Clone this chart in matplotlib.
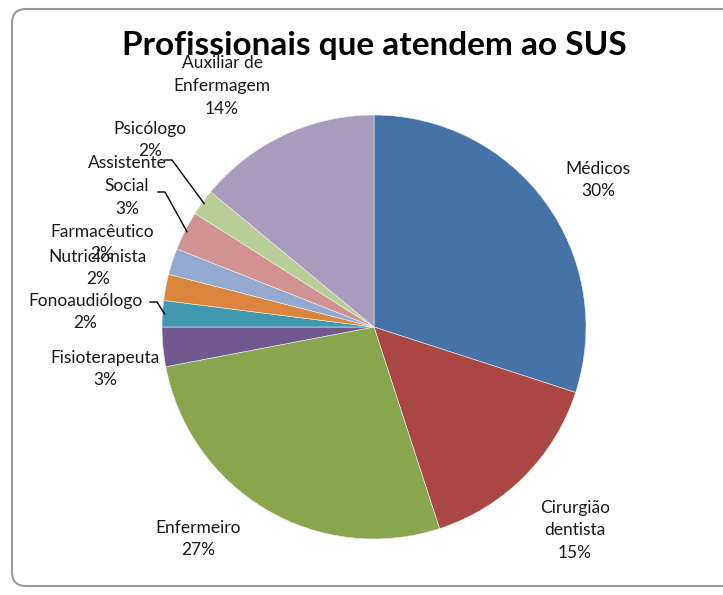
import numpy as np
import matplotlib.pyplot as plt
from matplotlib.patches import FancyBboxPatch

categorias = ["Médicos", "Cirurgião\ndentista", "Enfermeiro", "Fisioterapeuta",
              "Fonoaudiólogo", "Nutricionista", "Farmacêutico", "Assistente\nSocial",
              "Psicólogo", "Auxiliar de\nEnfermagem"]
percentuais = [30, 15, 27, 3, 2, 2, 2, 3, 2, 14]
cores = ["#4572A7", "#AA4643", "#89A54E", "#71588F", "#4198AF",
         "#DB843D", "#93A9CF", "#D19392", "#B9CD96", "#A99BBD"]

# label positions in pixels (x, y from top)
label_pos = [(598, 180), (575, 530), (198, 539), (105, 369), (85, 312),
             (98, 268), (102, 243), (127, 186), (150, 140), (222, 86)]
# leader lines: (text end x, text end y) for the small slices
leaders = {4: (150, 302), 7: (158, 192), 8: (165, 160)}

W, H = 723, 595
fig = plt.figure(figsize=(W / 100, H / 100), dpi=100)
ax = fig.add_axes([0, 0, 1, 1])

frame = FancyBboxPatch((12, 9), 740, 577, boxstyle="round,pad=0,rounding_size=14",
                       fc="white", ec="#9a9a9a", lw=1.5, zorder=0)
ax.add_patch(frame)

cx, cy, r = 374, H - 327, 212
wedges, _ = ax.pie(percentuais, colors=cores, startangle=90, counterclock=False,
                   center=(cx, cy), radius=r, frame=True,
                   wedgeprops=dict(linewidth=0.4, edgecolor="#f0f0f0"))
ax.set_xlim(0, W)
ax.set_ylim(0, H)
ax.set_aspect("equal")
ax.axis("off")

font = "Lato"
for i, (nome, p) in enumerate(zip(categorias, percentuais)):
    x, y = label_pos[i]
    ax.text(x, H - y, f"{nome}\n{p}%", ha="center", va="center", fontsize=12.5,
            family=font, color="#1a1a1a", linespacing=1.5, zorder=5)

for i, (tx, ty) in leaders.items():
    w = wedges[i]
    ang = np.deg2rad((w.theta1 + w.theta2) / 2)
    ex, ey = cx + r * 0.99 * np.cos(ang), cy + r * 0.99 * np.sin(ang)
    ax.plot([tx, tx + 7, ex], [H - ty, H - ty, ey], color="black", lw=1, zorder=4)

ax.text(374, H - 45, "Profissionais que atendem ao SUS", ha="center", va="center",
        fontsize=24, fontweight="bold", family=font, color="black", zorder=3)

fig.savefig("out.png", dpi=100)
